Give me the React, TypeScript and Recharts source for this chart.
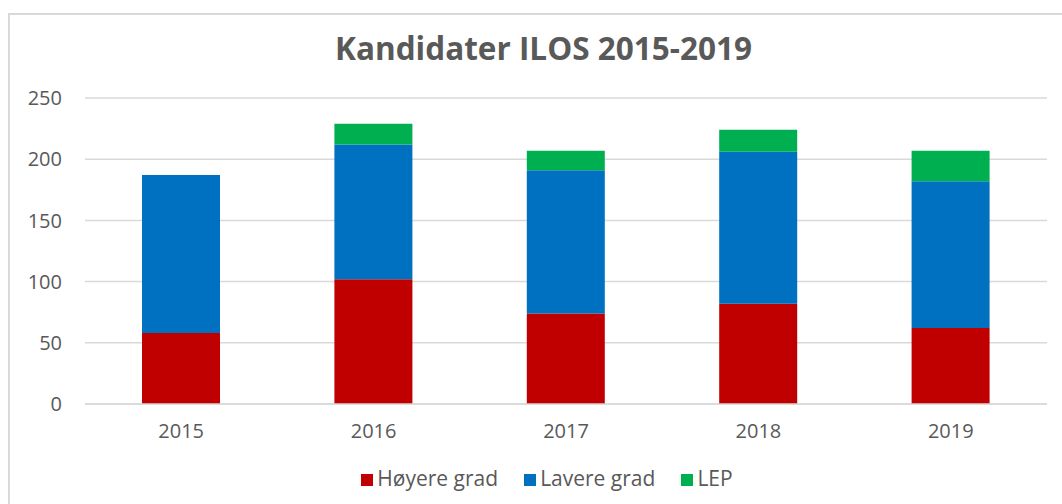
import React from 'react'
import { BarChart, Bar, XAxis, YAxis, CartesianGrid, Legend } from 'recharts'

const years = ['2015', '2016', '2017', '2018', '2019']
const hoyereGrad = [58, 102, 74, 82, 62]
const lavereGrad = [129, 110, 117, 124, 120]
const lep = [0, 17, 16, 18, 25]
const yTicks = [0, 50, 100, 150, 200, 250]

const data = years.map((year, i) => ({
  year,
  hoyere: hoyereGrad[i],
  lavere: lavereGrad[i],
  lep: lep[i],
}))

const textColor = '#595959'
const font = '"Open Sans", sans-serif'

export default function App() {
  return (
    <div style={{ position: 'absolute', left: 0, top: 0, width: 1062, height: 504, overflow: 'hidden', background: '#fff', fontFamily: font }}>
      {/* chart frame */}
      <div
        style={{
          position: 'absolute',
          left: 8,
          top: 13,
          width: 1100,
          height: 600,
          border: '2px solid #d9d9d9',
        }}
      />
      <div
        style={{
          position: 'absolute',
          left: 0,
          top: 26,
          width: 1087,
          textAlign: 'center',
          fontSize: 31.5,
          fontWeight: 700,
          color: textColor,
        }}
      >
        Kandidater ILOS 2015-2019
      </div>
      <div style={{ position: 'absolute', left: 0, top: 0 }}>
        <BarChart width={1062} height={504} data={data} margin={{ top: 98, right: 15, bottom: 12, left: 0 }}>
          <CartesianGrid vertical={false} stroke="#d9d9d9" strokeWidth={1.5} />
          <XAxis
            dataKey="year"
            height={60}
            axisLine={{ stroke: '#d9d9d9', strokeWidth: 1.5 }}
            tickLine={false}
            tickMargin={14}
            tick={{ fill: textColor, fontSize: 20, fontFamily: font }}
          />
          <YAxis
            width={85}
            domain={[0, 250]}
            ticks={yTicks}
            axisLine={false}
            tickLine={false}
            tickSize={0}
            tickMargin={23}
            tick={{ fill: textColor, fontSize: 20, fontFamily: font }}
          />
          <Legend
            verticalAlign="bottom"
            iconType="square"
            iconSize={12}
            itemSorter="dataKey"
            wrapperStyle={{ left: 58, width: 1004, fontSize: 21, fontFamily: font }}
            formatter={(value) => <span style={{ color: textColor, marginRight: 16 }}>{value}</span>}
          />
          <Bar dataKey="hoyere" name="Høyere grad" stackId="a" fill="#C00000" barSize={78} isAnimationActive={false} />
          <Bar dataKey="lavere" name="Lavere grad" stackId="a" fill="#0070C0" barSize={78} isAnimationActive={false} />
          <Bar dataKey="lep" name="LEP" stackId="a" fill="#00B050" barSize={78} isAnimationActive={false} />
        </BarChart>
      </div>
    </div>
  )
}
